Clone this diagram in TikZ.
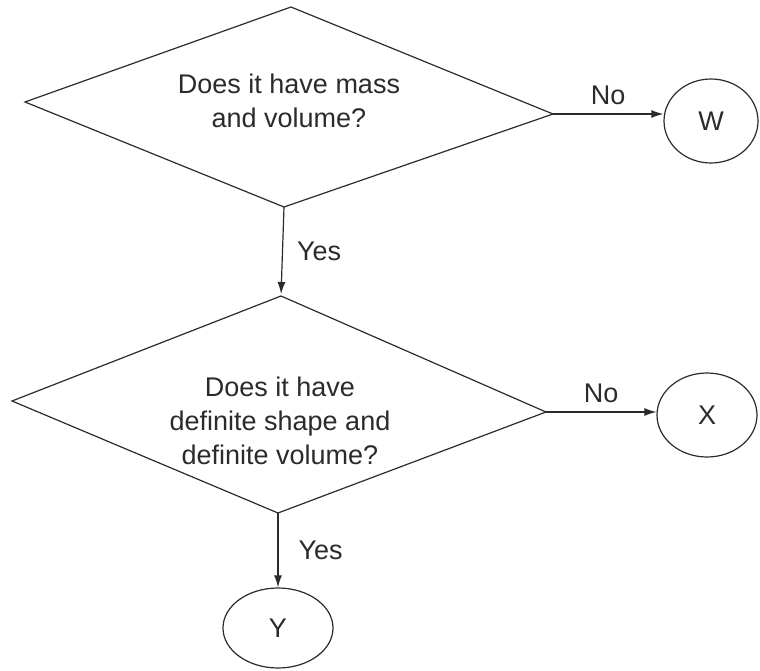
\documentclass[tikz,border=0pt]{standalone}
\usepackage{fontspec}
\setmainfont{Liberation Sans}
\usetikzlibrary{arrows.meta,shapes.geometric}
\definecolor{ink}{HTML}{2B2B2B}
\begin{document}
\begin{tikzpicture}[x=1pt,y=-1pt,
  line/.style={draw=ink,line width=1.2pt,line join=miter},
  flow/.style={line,-{Latex[length=12pt,width=8pt]}},
  question/.style={align=center,text=ink,font=\fontsize{27}{34}\selectfont},
  outcome/.style={ellipse,draw=ink,line width=1.2pt,inner sep=0pt,text=ink,font=\fontsize{27}{34}\selectfont},
  lbl/.style={text=ink,font=\fontsize{27}{34}\selectfont,inner sep=0pt}]
\useasboundingbox (0,0) rectangle (760,671);

% first decision
\coordinate (d1t) at (291,7);
\coordinate (d1l) at (25,102);
\coordinate (d1b) at (284,207);
\coordinate (d1r) at (553,114);
\draw[line] (d1t) -- (d1r) -- (d1b) -- (d1l) -- cycle;
\node[question] (q1) at (289,101) {Does it have mass\\and volume?};

% second decision
\coordinate (d2t) at (281,296);
\coordinate (d2l) at (12,401);
\coordinate (d2b) at (278,513);
\coordinate (d2r) at (546,412);
\draw[line] (d2t) -- (d2r) -- (d2b) -- (d2l) -- cycle;
\node[question] (q2) at (280,421) {Does it have\\definite shape and\\definite volume?};

% outcomes
\node[outcome,minimum width=94pt,minimum height=84pt] (W) at (711,121) {W};
\node[outcome,minimum width=100pt,minimum height=84pt] (X) at (707,415) {X};
\node[outcome,minimum width=110pt,minimum height=80pt] (Y) at (278,628) {Y};

% connectors
\draw[flow] (d1r) -- (W.west |- d1r) node[lbl,midway,above=9pt] (n1) {No};
\draw[flow,shorten >=2pt] (d1b) -- (d2t) node[lbl,midway,right=14pt] (y1) {Yes};
\draw[flow] (d2r) -- (X.west |- d2r) node[lbl,midway,above=9pt] (n2) {No};
\draw[flow] (d2b) -- (Y.north) node[lbl,midway,right=20pt] (y2) {Yes};
\end{tikzpicture}
\end{document}
